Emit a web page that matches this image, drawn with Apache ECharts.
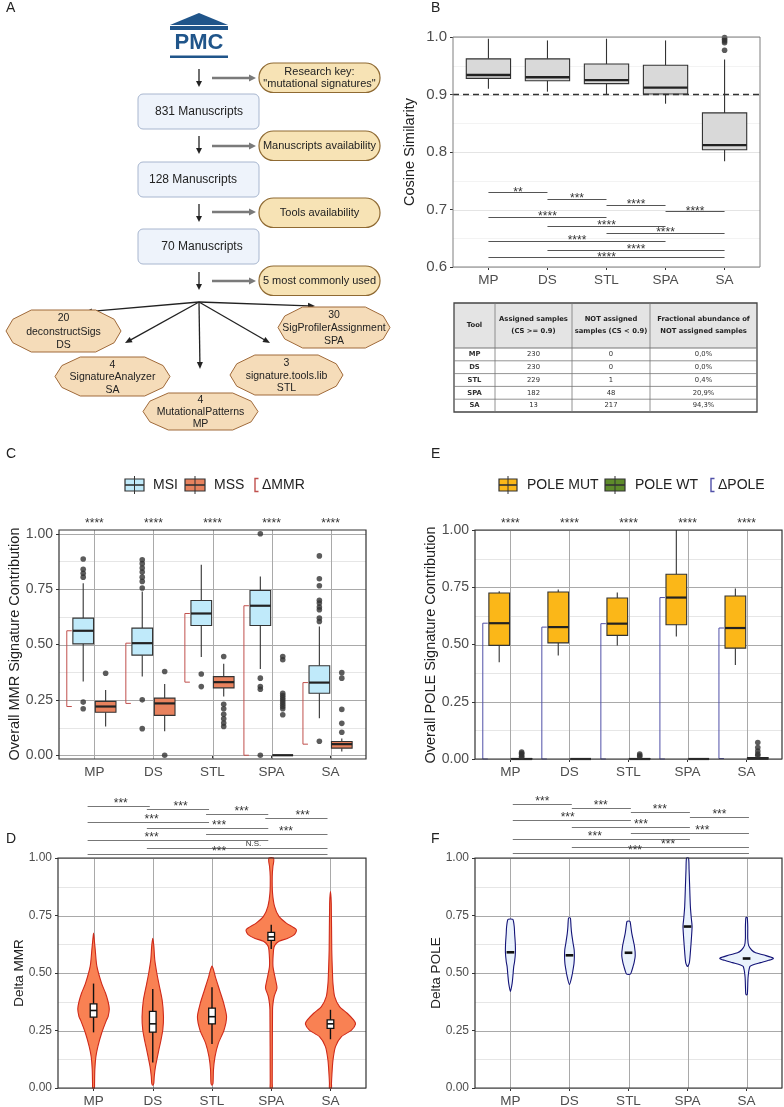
<!DOCTYPE html>
<html><head><meta charset="utf-8">
<script src="https://cdn.jsdelivr.net/npm/echarts@6.0.0/dist/echarts.min.js"></script>
<style>html,body{margin:0;padding:0;background:#fff;}#c{width:784px;height:1107px;}</style>
</head><body><div id="c"></div>
<script>
// ================= DATA =================
const tools = ['MP','DS','STL','SPA','SA'];
const toolFullNames = ['MutationalPatterns','deconstructSigs','signature.tools.lib','SigProfilerAssignment','SignatureAnalyzer'];
const toolPaperCounts = [4,20,3,30,4];
const flowSteps = ['831 Manuscripts','128 Manuscripts','70 Manuscripts'];
const flowFilters = [['Research key:','"mutational signatures"'],['Manuscripts availability'],['Tools availability'],['5 most commonly used']];

const yTicksCS = [0.6,0.7,0.8,0.9,1.0];
const yMinorCS = [0.65,0.75,0.85,0.95];
const yTicks01 = [0,0.25,0.5,0.75,1];
const yMinor01 = [0.125,0.375,0.625,0.875];
const xTicks = [1,2,3,4,5];

// Panel B: cosine similarity, [min, q1, median, q3, max]
const csBox = [[0.910,0.928,0.934,0.962,0.997],[0.905,0.924,0.930,0.962,0.994],[0.900,0.919,0.925,0.953,0.997],[0.884,0.901,0.912,0.951,0.994],[0.784,0.804,0.812,0.868,0.961]];
const csOutliers = [[],[],[],[],[0.999,0.996,0.993,0.990,0.977]];
const csThreshold = 0.9;
const csSig = [[1,2,0.730,'**'],[2,3,0.719,'***'],[3,4,0.708,'****'],[4,5,0.697,'****'],[1,3,0.687,'****'],[2,4,0.672,'****'],[3,5,0.659,'****'],[1,4,0.645,'****'],[2,5,0.630,'****'],[1,5,0.617,'****']];
const tblHeader = [['Tool'],['Assigned samples','(CS >= 0.9)'],['NOT assigned','samples (CS < 0.9)'],['Fractional abundance of','NOT assigned samples']];
const tblAssigned = [230,230,229,182,13];
const tblNotAssigned = [0,0,1,48,217];
const tblFraction = ['0,0%','0,0%','0,4%','20,9%','94,3%'];

// Panel C: MMR signature contribution
const msiBox = [[0.333,0.503,0.562,0.619,0.777],[0.356,0.452,0.506,0.574,0.739],[0.443,0.586,0.640,0.699,0.860],[0.389,0.586,0.675,0.744,0.807],[0.167,0.280,0.328,0.404,0.581]];
const mssBox = [[0.130,0.194,0.220,0.243,0.294],[0.108,0.180,0.234,0.258,0.322],[0.265,0.304,0.330,0.355,0.413],[0,0,0,0,0],[0.017,0.032,0.050,0.062,0.075]];
const msiOut = [[0.886,0.840,0.822,0.804,0.240,0.210],[0.883,0.865,0.845,0.827,0.804,0.785,0.755,0.250,0.120],[0.367,0.310],[1.0,0.348,0.310,0.298,0.0],[0.900,0.797,0.765,0.700,0.687,0.669,0.657,0.619,0.604,0.063]];
const mssOut = [[0.370],[0.378,0.0],[0.446,0.230,0.210,0.185,0.165,0.145,0.130],[0.446,0.431,0.280,0.270,0.260,0.250,0.240,0.230,0.220,0.210,0.183],[0.373,0.348,0.207,0.144,0.104]];
const cStars = ['****','****','****','****','****'];

// Panel E: POLE signature contribution
const mutBox = [[0.422,0.496,0.593,0.725,0.733],[0.452,0.507,0.576,0.729,0.740],[0.496,0.540,0.591,0.703,0.727],[0.535,0.586,0.705,0.807,1.0],[0.411,0.484,0.572,0.712,0.744]];
const wtBox = [[0,0,0,0.002,0.004],[0,0,0,0,0.002],[0,0,0,0.002,0.004],[0,0,0,0,0.001],[0,0,0.002,0.006,0.012]];
const wtOut = [[0.030,0.025,0.020,0.012,0.008],[],[0.022,0.015,0.010],[],[0.072,0.050,0.035,0.022,0.015]];
const eStars = ['****','****','****','****','****'];

// Panel D: Delta MMR violins, profile = [value, half width (x units)]
const dViolin = [
  [[0.674,0],[0.64,0.014],[0.6,0.029],[0.53,0.056],[0.455,0.136],[0.412,0.203],[0.375,0.246],[0.343,0.266],[0.31,0.246],[0.296,0.22],[0.238,0.136],[0.18,0.073],[0.135,0.039],[0.08,0.022],[0.02,0.017],[0,0.014]],
  [[0.651,0],[0.62,0.017],[0.557,0.034],[0.5,0.068],[0.455,0.102],[0.383,0.158],[0.31,0.181],[0.252,0.169],[0.2,0.132],[0.165,0.102],[0.093,0.046],[0.05,0.025],[0.02,0.017],[0.012,0]],
  [[0.53,0],[0.515,0.025],[0.484,0.056],[0.426,0.127],[0.368,0.198],[0.31,0.246],[0.252,0.203],[0.194,0.107],[0.136,0.051],[0.08,0.025],[0.02,0.017],[0.012,0]],
  [[1.0,0.039],[0.985,0.042],[0.964,0.029],[0.92,0.017],[0.848,0.022],[0.79,0.056],[0.746,0.131],[0.717,0.254],[0.688,0.424],[0.667,0.39],[0.65,0.271],[0.638,0.131],[0.62,0.059],[0.6,0.039],[0.53,0.029],[0.47,0.073],[0.435,0.097],[0.4,0.051],[0.37,0.031],[0.34,0.022],[0.02,0.017],[0,0.017]],
  [[0.854,0],[0.8,0.014],[0.6,0.022],[0.5,0.034],[0.455,0.042],[0.397,0.071],[0.354,0.153],[0.325,0.283],[0.296,0.39],[0.279,0.424],[0.252,0.356],[0.223,0.186],[0.18,0.085],[0.12,0.042],[0.06,0.025],[0.02,0.017],[0,0.017]]
];
const dBox = [[0.242,0.308,0.337,0.366,0.454],[0.111,0.243,0.279,0.333,0.430],[0.191,0.279,0.310,0.347,0.438],[0.604,0.642,0.657,0.677,0.710],[0.212,0.259,0.279,0.296,0.340]];
const dSig = [[1,2,1.226,'***',1.46],[2,3,1.213,'***',2.47],[3,4,1.191,'***',3.5],[4,5,1.174,'***',4.53],[1,3,1.157,'***',1.98],[2,4,1.130,'***',3.12],[3,5,1.104,'***',4.25],[1,4,1.078,'***',1.98],[2,5,1.043,'N.S.',3.7],[1,5,1.017,'***',3.12]];

// Panel F: Delta POLE violins
const fViolin = [
  [[0.735,0],[0.733,0.043],[0.7,0.065],[0.672,0.071],[0.63,0.082],[0.59,0.085],[0.55,0.071],[0.528,0.056],[0.49,0.043],[0.455,0.029],[0.42,0]],
  [[0.74,0],[0.738,0.017],[0.7,0.027],[0.672,0.037],[0.63,0.061],[0.6,0.08],[0.57,0.083],[0.542,0.077],[0.51,0.058],[0.484,0.039],[0.45,0]],
  [[0.726,0],[0.724,0.026],[0.7,0.041],[0.672,0.056],[0.614,0.102],[0.575,0.114],[0.545,0.095],[0.528,0.077],[0.51,0.056],[0.496,0.034],[0.494,0]],
  [[1.0,0.017],[0.95,0.026],[0.891,0.034],[0.79,0.048],[0.74,0.063],[0.703,0.077],[0.66,0.068],[0.617,0.056],[0.545,0.031],[0.528,0]],
  [[0.742,0],[0.74,0.012],[0.7,0.02],[0.65,0.02],[0.62,0.034],[0.6,0.085],[0.588,0.153],[0.578,0.298],[0.564,0.454],[0.555,0.374],[0.545,0.238],[0.535,0.102],[0.528,0.056],[0.484,0.026],[0.41,0.014],[0.405,0]]
];
const fMedian = [0.590,0.577,0.588,0.702,0.563];
const fSig = [[1,2,1.235,'***',1.54],[2,3,1.217,'***',2.53],[3,4,1.2,'***',3.53],[4,5,1.178,'***',4.54],[1,3,1.165,'***',1.97],[2,4,1.135,'***',3.21],[3,5,1.109,'***',4.25],[1,4,1.083,'***',2.43],[2,5,1.048,'***',3.67],[1,5,1.022,'***',3.11]];

// ================= STYLE / LAYOUT =================
const FONT = '"Liberation Sans", Arial, sans-serif';
const C = {msi:'#c0eafa', mss:'#e8825e', mmr:'#c0504d', mut:'#fbb718', wt:'#5d8a2a', pole:'#5050a8',
  vD:'#f98153', vDs:'#cf2a1a', vF:'#eaf2fc', vFs:'#141478'};

const G = [];
function T(x,y,text,size,opt){opt=opt||{};
  G.push({type:'text', x, y, rotation:opt.rot||0, z:100, silent:true,
    style:{text, font:(opt.bold?'bold ':'')+size+'px '+(opt.family||FONT), fill:opt.color||'#222',
      textAlign:opt.align||'center', textVerticalAlign:'middle', align:opt.align||'center', verticalAlign:'middle'}});}
function L(x1,y1,x2,y2,color,w){G.push({type:'line', z:50, silent:true, shape:{x1,y1,x2,y2}, style:{stroke:color, lineWidth:w}});}
function PL(points,color,w){G.push({type:'polyline', z:50, silent:true, shape:{points}, style:{stroke:color, lineWidth:w, fill:'none'}});}
function P(points,fill,stroke,w){G.push({type:'polygon', z:50, silent:true, shape:{points}, style:{fill, stroke:stroke||'none', lineWidth:w||0}});}
function R(x,y,w,h,fill,stroke,lw,r){G.push({type:'rect', z:40, silent:true, shape:{x,y,width:w,height:h,r:r||0}, style:{fill, stroke:stroke||'none', lineWidth:lw||0}});}
function arrow(x1,y1,x2,y2,color,w,hl,hw){
  const dx=x2-x1, dy=y2-y1, len=Math.hypot(dx,dy), ux=dx/len, uy=dy/len;
  const bx=x2-ux*hl, by=y2-uy*hl;
  L(x1,y1,bx+ux*1,by+uy*1,color,w);
  P([[x2,y2],[bx-uy*hw/2,by+ux*hw/2],[bx+uy*hw/2,by-ux*hw/2]],color);
}

// ---- Panel A: flow chart ----
P([[170,25],[199,13],[228,25]],'#20558a');
R(170,26,58,4,'#20558a');
T(199,43,'PMC',22,{bold:true,color:'#20558a'});
R(170,55.5,58,2.5,'#20558a');
const boxY=[94,162,229], pillY=[63,131,198,266], arrY=[69,136,204,272], grayY=[78,146,212,281], boxTextX=[199,193,202];
flowFilters.forEach((f,i)=>{
  R(259,pillY[i],121,29.5,'#f7e3b5','#8f6a33',1.2,14.5);
  if(f.length===2){T(319.5,pillY[i]+8.5,f[0],11);T(319.5,pillY[i]+20.5,f[1],11);} else T(319.5,pillY[i]+14.5,f[0],11);
  arrow(199,arrY[i],199,arrY[i]+18,'#222',1.3,6,6);
  arrow(212,grayY[i],256,grayY[i],'#7a7a7a',2.5,7,7);
});
flowSteps.forEach((s,i)=>{ R(138,boxY[i],121,35,'#eef3fb','#a8b6cf',1,5); T(boxTextX[i],boxY[i]+17.5,s,12); });
const octBoxes = [[143,393,258,430],[6,310,121,352],[230,355,343,395],[278,307,390,348],[55,357,170,396]];
const fanEnds = [[200,369],[85,312],[270,343],[315,306],[125,343]];
fanEnds.forEach(e=>arrow(199,302,e[0],e[1],'#222',1.3,7,6));
octBoxes.forEach((b,i)=>{
  const [x0,y0,x1,y1]=b, w=x1-x0, h=y1-y0;
  P([[x0+0.22*w,y0],[x1-0.22*w,y0],[x1-0.06*w,y0+0.22*h],[x1,y0+0.5*h],[x1-0.06*w,y0+0.78*h],[x1-0.22*w,y1],[x0+0.22*w,y1],[x0+0.06*w,y0+0.78*h],[x0,y0+0.5*h],[x0+0.06*w,y0+0.22*h]],'#f5dcb9','#a06a3a',1);
  const cx=(x0+x1)/2;
  T(cx,y0+0.2*h,String(toolPaperCounts[i]),10.5);
  T(cx,y0+0.52*h,toolFullNames[i],10.5);
  T(cx,y0+0.84*h,tools[i],10.5);
});

// ---- Panel B table ----
(function(){
  const xs=[454,495,572,650,757], ys=[303,348,360.8,373.6,386.4,399.2,412];
  const TF='"DejaVu Sans", Verdana, sans-serif';
  R(xs[0],ys[0],xs[4]-xs[0],ys[1]-ys[0],'#e4e4e4');
  for(let k=1;k<ys.length-1;k++) L(xs[0],ys[k],xs[4],ys[k],'#777',k===1?1.2:0.8);
  for(let k=1;k<xs.length-1;k++) L(xs[k],ys[0],xs[k],ys[6],'#777',0.8);
  R(xs[0],ys[0],xs[4]-xs[0],ys[6]-ys[0],'none','#444',1.3);
  tblHeader.forEach((h,c)=>{
    const cx=(xs[c]+xs[c+1])/2;
    if(h.length===1) T(cx,325.5,h[0],6.8,{bold:true,family:TF});
    else {T(cx,319,h[0],6.8,{bold:true,family:TF});T(cx,331.5,h[1],6.8,{bold:true,family:TF});}
  });
  tools.forEach((t,r)=>{
    const cy=(ys[r+1]+ys[r+2])/2;
    const vals=[t,String(tblAssigned[r]),String(tblNotAssigned[r]),tblFraction[r]];
    vals.forEach((v,c)=>T((xs[c]+xs[c+1])/2,cy,v,6.8,{bold:c===0,family:TF,color:'#333'}));
  });
})();

// ---- legends ----
function legIcon(x0,x1,yc,fill){
  const cx=(x0+x1)/2;
  L(cx,yc-9,cx,yc+9,'#333',1);
  R(x0,yc-6,x1-x0,12,fill,'#333',1.2);
  L(x0,yc,x1,yc,'#333',1.6);
}
function legBracket(x,yc,color){PL([[x+3.5,yc-6.5],[x,yc-6.5],[x,yc+6.5],[x+3.5,yc+6.5]],color,1.4);}
legIcon(125,144,485,C.msi); T(153,485,'MSI',14,{align:'left'});
legIcon(185,205,485,C.mss); T(214,485,'MSS',14,{align:'left'});
legBracket(255,485,C.mmr); T(262,485,'ΔMMR',14,{align:'left'});
legIcon(499,517,485,C.mut); T(527,485,'POLE MUT',14,{align:'left'});
legIcon(605,625,485,C.wt); T(635,485,'POLE WT',14,{align:'left'});
legBracket(711,485,C.pole); T(718,485,'ΔPOLE',14,{align:'left'});

// ---- panel letters & axis titles ----
[['A',6,8],['B',431,8],['C',6,454],['E',431,454],['D',6,839],['F',431,839]].forEach(a=>T(a[1],a[2],a[0],14,{align:'left'}));
T(410,152,'Cosine Similarity',14.5,{rot:Math.PI/2});
T(15,644,'Overall MMR Signature Contribution',14.5,{rot:Math.PI/2});
T(431,645,'Overall POLE Signature Contribution',14.5,{rot:Math.PI/2});
T(19,973,'Delta MMR',13.5,{rot:Math.PI/2});
T(436,973,'Delta POLE',13.5,{rot:Math.PI/2});

// ================= SERIES BUILDERS =================
function frameSeries(gi, hMajor, hMinor, vLines, majorColor, minorColor){
  const items=[];
  hMinor.forEach(v=>items.push(['hm',v])); hMajor.forEach(v=>items.push(['hM',v])); vLines.forEach(v=>items.push(['v',v]));
  return {type:'custom', xAxisIndex:gi, yAxisIndex:gi, z:1, silent:true,
    data: items.map(it=>it[0]==='v'?[it[1],0.5]:[1,it[1]]),
    renderItem(params, api){
      const it=items[params.dataIndex], cs=params.coordSys;
      if(it[0]==='v'){const x=Math.round(api.coord([it[1],0.5])[0])+0.5;
        return {type:'line', shape:{x1:x,y1:cs.y,x2:x,y2:cs.y+cs.height}, style:{stroke:majorColor,lineWidth:1}};}
      const y=Math.round(api.coord([1,it[1]])[1])+0.5;
      return {type:'line', shape:{x1:cs.x,y1:y,x2:cs.x+cs.width,y2:y}, style:{stroke:it[0]==='hM'?majorColor:minorColor,lineWidth:1}};
    }};
}
function borderSeries(gi,color,w){
  return {type:'custom', xAxisIndex:gi, yAxisIndex:gi, z:20, silent:true, data:[[1,0.5]],
    renderItem(params){const cs=params.coordSys;
      return {type:'rect', shape:{x:cs.x,y:cs.y,width:cs.width,height:cs.height}, style:{fill:'none',stroke:color,lineWidth:w}};}};
}
function boxSeries(gi, boxes, off, halfW, fill, opt){
  opt=opt||{};
  const sc=opt.stroke||'#333', mw=opt.medW||2.2;
  return {type:'custom', xAxisIndex:gi, yAxisIndex:gi, z:opt.z||4, silent:true,
    data: boxes.map((b,i)=>[i+1+off].concat(b)),
    renderItem(params, api){
      const x=api.value(0), mn=api.value(1), q1=api.value(2), md=api.value(3), q3=api.value(4), mx=api.value(5);
      const a=api.coord([x-halfW,q3]), b=api.coord([x+halfW,q1]);
      const t=api.coord([x,mx]), u=api.coord([x,q3]), l=api.coord([x,q1]), bt=api.coord([x,mn]);
      const m1=api.coord([x-halfW,md]), m2=api.coord([x+halfW,md]);
      return {type:'group', children:[
        {type:'line', shape:{x1:t[0],y1:t[1],x2:u[0],y2:u[1]}, style:{stroke:sc,lineWidth:opt.wW||1.1}},
        {type:'line', shape:{x1:l[0],y1:l[1],x2:bt[0],y2:bt[1]}, style:{stroke:sc,lineWidth:opt.wW||1.1}},
        {type:'rect', shape:{x:a[0],y:a[1],width:b[0]-a[0],height:Math.max(b[1]-a[1],0)}, style:{fill, stroke:sc, lineWidth:opt.bW||1.1}},
        {type:'line', shape:{x1:m1[0],y1:m1[1],x2:m2[0],y2:m2[1]}, style:{stroke:opt.medC||'#222',lineWidth:mw}}
      ]};
    }};
}
function outlierSeries(gi, outs, off){
  const pts=[]; outs.forEach((arr,i)=>arr.forEach(v=>pts.push([i+1+off,v])));
  return {type:'scatter', xAxisIndex:gi, yAxisIndex:gi, z:6, silent:true, symbol:'circle', symbolSize:5.6,
    itemStyle:{color:'#333', borderWidth:0}, data:pts};
}
function bracketSeries(gi, hi, lo, color){
  return {type:'custom', xAxisIndex:gi, yAxisIndex:gi, z:3, silent:true,
    data: tools.map((t,i)=>[i+1,hi[i][2],lo[i][2]]),
    renderItem(params, api){
      const c=api.value(0);
      const p1=api.coord([c-0.468,api.value(1)]), p2=api.coord([c-0.468,api.value(2)]);
      const e1=api.coord([c-0.383,api.value(1)]), e2=api.coord([c-0.383,api.value(2)]);
      return {type:'polyline', shape:{points:[[e1[0],p1[1]],[p1[0],p1[1]],[p2[0],p2[1]],[e2[0],p2[1]]]}, style:{stroke:color,lineWidth:1,fill:'none'}};
    }};
}
function starsSeries(gi, labels, yv){
  return {type:'custom', xAxisIndex:gi, yAxisIndex:gi, z:6, silent:true,
    data: labels.map((s,i)=>[i+1,yv]),
    renderItem(params, api){
      const p=api.coord([api.value(0),api.value(1)]);
      return {type:'text', x:p[0], y:p[1], style:{text:labels[params.dataIndex], font:'12px '+FONT, fill:'#333',
        textAlign:'center', textVerticalAlign:'middle', align:'center', verticalAlign:'middle'}};
    }};
}
function sigSeries(gi, rows, x0off, x1off, color, dy){
  return {type:'custom', xAxisIndex:gi, yAxisIndex:gi, z:6, silent:true,
    data: rows.map(r=>[r[0],r[2]]),
    renderItem(params, api){
      const r=rows[params.dataIndex];
      const a=api.coord([r[0]+x0off,r[2]]), b=api.coord([r[1]+x1off,r[2]]);
      const tx=r.length>4?r[4]:(r[0]+r[1])/2, t=api.coord([tx,r[2]]);
      const ns=r[3]==='N.S.';
      const y=Math.round(a[1])+0.5;
      return {type:'group', children:[
        {type:'line', shape:{x1:a[0],y1:y,x2:b[0],y2:y}, style:{stroke:color,lineWidth:1}},
        {type:'text', x:t[0], y:t[1]-(ns?4:dy), style:{text:r[3], font:(ns?'8px ':'12px ')+FONT, fill:'#333',
          textAlign:'center', textVerticalAlign:'middle', align:'center', verticalAlign:'middle'}}
      ]};
    }};
}
function violinSeries(gi, profiles, fill, stroke){
  return {type:'custom', xAxisIndex:gi, yAxisIndex:gi, z:3, silent:true,
    data: profiles.map((p,i)=>[i+1,p[0][0]]),
    renderItem(params, api){
      const p=profiles[params.dataIndex], x=params.dataIndex+1;
      const right=p.map(d=>api.coord([x+d[1],d[0]]));
      const left=p.slice().reverse().filter(d=>d[1]>0).map(d=>api.coord([x-d[1],d[0]]));
      return {type:'polygon', shape:{points:right.concat(left), smooth:0.25}, style:{fill, stroke, lineWidth:1.1}};
    }};
}
function medianSeries(gi, meds, halfW){
  return {type:'custom', xAxisIndex:gi, yAxisIndex:gi, z:5, silent:true,
    data: meds.map((m,i)=>[i+1,m]),
    renderItem(params, api){
      const a=api.coord([api.value(0)-halfW,api.value(1)]), b=api.coord([api.value(0)+halfW,api.value(1)]);
      return {type:'line', shape:{x1:a[0],y1:a[1],x2:b[0],y2:b[1]}, style:{stroke:'#111',lineWidth:2.6}};
    }};
}
function dashSeries(gi, v){
  return {type:'custom', xAxisIndex:gi, yAxisIndex:gi, z:5, silent:true, data:[[1,v]],
    renderItem(params, api){const cs=params.coordSys, y=api.coord([1,api.value(1)])[1];
      return {type:'line', shape:{x1:cs.x,y1:y,x2:cs.x+cs.width,y2:y}, style:{stroke:'#333',lineWidth:1.6,lineDash:[6,4]}};}};
}

// ================= AXES =================
const grids = [
  {left:453, top:37, width:307, height:230},   // B
  {left:59,  top:530, width:307, height:229},  // C
  {left:475, top:530, width:307, height:229},  // E
  {left:58,  top:858, width:308, height:230},  // D
  {left:475, top:858, width:307, height:230}   // F
].map(g=>Object.assign({show:false, containLabel:false, outerBoundsMode:'none'}, g));
const yRanges = [[0.6,1.0],[-0.017,1.017],[0,1],[0,1],[0,1]];
const yTickSets = [yTicksCS, yTicks01, yTicks01, yTicks01, yTicks01];
const yLabelSize = [15,14,14,12,12];
const xAxes = grids.map((g,i)=>({gridIndex:i, type:'value', min:0.4, max:5.6,
  splitLine:{show:false}, axisLine:{show:false},
  axisTick:{show:true, length:3, customValues:xTicks, lineStyle:{color:'#333', width:1}},
  axisLabel:{customValues:xTicks, formatter:v=>tools[Math.round(v)-1]||'', color:'#4d4d4d', fontSize:13.5, margin:6, fontFamily:FONT}}));
const yAxes = grids.map((g,i)=>({gridIndex:i, type:'value', min:yRanges[i][0], max:yRanges[i][1],
  splitLine:{show:false}, axisLine:{show:false},
  axisTick:{show:true, length:3, customValues:yTickSets[i], lineStyle:{color:'#333', width:1}},
  axisLabel:{customValues:yTickSets[i], formatter:v=>v.toFixed(i===0?1:2), color:'#4d4d4d', fontSize:yLabelSize[i], margin:6, fontFamily:FONT}}));

// ================= SERIES =================
const GR='#a9a9a9', GM='#e6e6e6';
const series = [
  // B
  frameSeries(0, yTicksCS, yMinorCS, [], '#e4e4e4', '#f3f3f3'),
  boxSeries(0, csBox, 0, 0.375, '#d9d9d9', {medW:2.4}),
  outlierSeries(0, csOutliers, 0),
  dashSeries(0, csThreshold),
  sigSeries(0, csSig, 0, 0, '#555', 0),
  borderSeries(0, '#7f7f7f', 1),
  // C
  frameSeries(1, yTicks01, yMinor01, xTicks, GR, GM),
  bracketSeries(1, msiBox, mssBox, C.mmr),
  boxSeries(1, msiBox, -0.19, 0.175, C.msi),
  boxSeries(1, mssBox, 0.19, 0.175, C.mss),
  outlierSeries(1, msiOut, -0.19),
  outlierSeries(1, mssOut, 0.19),
  starsSeries(1, cStars, 1.045),
  borderSeries(1, '#333', 1.2),
  // E
  frameSeries(2, yTicks01, yMinor01, xTicks, GR, GM),
  bracketSeries(2, mutBox, wtBox, C.pole),
  boxSeries(2, mutBox, -0.19, 0.175, C.mut),
  boxSeries(2, wtBox, 0.19, 0.175, C.wt),
  outlierSeries(2, wtOut, 0.19),
  starsSeries(2, eStars, 1.026),
  borderSeries(2, '#333', 1.2),
  // D
  frameSeries(3, yTicks01, yMinor01, xTicks, GR, GM),
  violinSeries(3, dViolin, C.vD, C.vDs),
  boxSeries(3, dBox, 0, 0.056, '#ffffff', {stroke:'#111', medW:1.6, medC:'#111', wW:1.4, bW:1.3, z:5}),
  sigSeries(3, dSig, -0.1, -0.05, '#777', 2),
  borderSeries(3, '#333', 1.2),
  // F
  frameSeries(4, yTicks01, yMinor01, xTicks, GR, GM),
  violinSeries(4, fViolin, C.vF, C.vFs),
  medianSeries(4, fMedian, 0.065),
  sigSeries(4, fSig, 0.04, 0.04, '#777', 2),
  borderSeries(4, '#333', 1.2)
];

const chart = echarts.init(document.getElementById('c'), null, {renderer:'canvas', width:784, height:1107});
chart.setOption({
  animation:false,
  backgroundColor:'#ffffff',
  textStyle:{fontFamily:FONT},
  grid:grids, xAxis:xAxes, yAxis:yAxes, series,
  graphic:{elements:G}
});
</script></body></html>
